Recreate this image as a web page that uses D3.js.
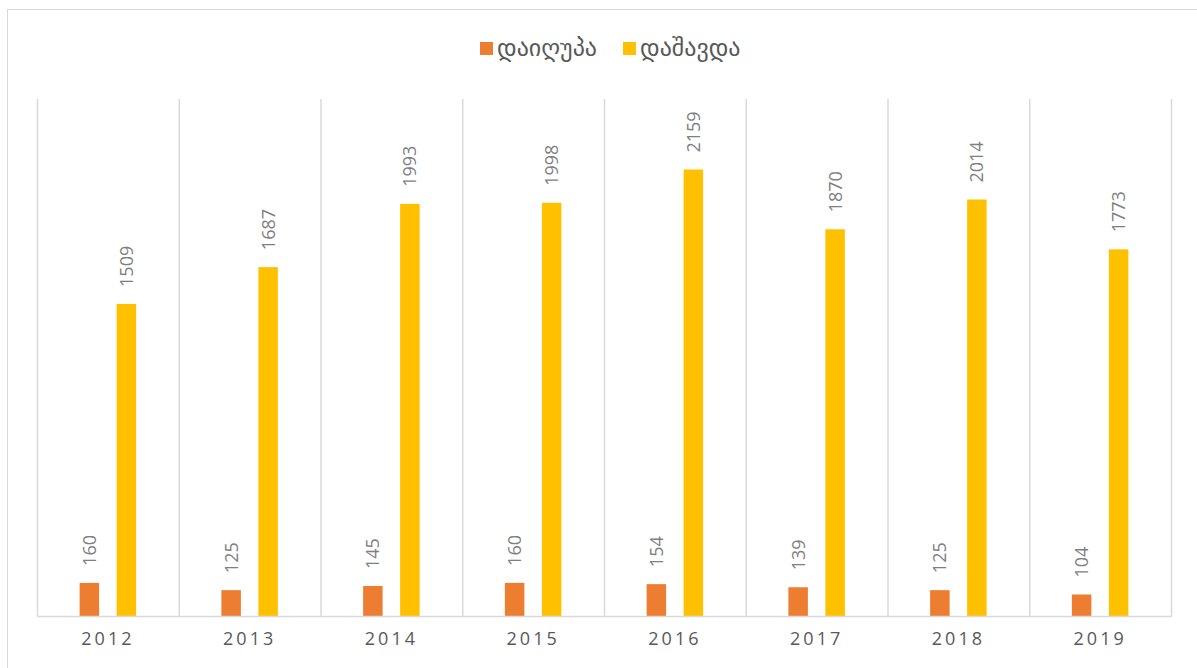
<!DOCTYPE html>
<html>
<head>
<meta charset="utf-8">
<script src="https://cdn.jsdelivr.net/npm/d3@7"></script>
<style>
  body { margin: 0; background: #fff; }
  text { font-family: "Open Sans", "DejaVu Sans", sans-serif; }
</style>
</head>
<body>
<svg id="chart" width="1197" height="668"></svg>
<script>
// Data
var years = ["2012", "2013", "2014", "2015", "2016", "2017", "2018", "2019"];
var seriesNames = ["დაიღუპა", "დაშავდა"];
var died = [160, 125, 145, 160, 154, 139, 125, 104];
var injured = [1509, 1687, 1993, 1998, 2159, 1870, 2014, 1773];
var colors = ["#ED7D31", "#FFC000"];

var svg = d3.select("#chart");

var plot = { left: 37, right: 1171, top: 99, bottom: 616 };

// Chart frame
svg.append("rect")
    .attr("x", 7.5).attr("y", 9.5)
    .attr("width", 1200).attr("height", 700)
    .attr("fill", "none")
    .attr("stroke", "#d9d9d9");

var x0 = d3.scaleBand()
    .domain(years)
    .range([plot.left, plot.right]);

var x1 = d3.scaleBand()
    .domain(seriesNames)
    .range([0, x0.bandwidth()])
    .paddingInner(0.473)
    .paddingOuter(1.152);

var y = d3.scaleLinear()
    .domain([0, 2500])
    .range([plot.bottom, plot.top]);

// Vertical gridlines between categories
var gridX = years.map(function(d) { return x0(d); }).concat([plot.right]);
svg.append("g")
    .selectAll("line")
    .data(gridX)
    .join("line")
    .attr("x1", function(d) { return d + 0.5; })
    .attr("x2", function(d) { return d + 0.5; })
    .attr("y1", plot.top)
    .attr("y2", plot.bottom)
    .attr("stroke", "#d9d9d9")
    .attr("stroke-width", 1.5);

// Bars
var rows = years.map(function(yr, i) {
    return { year: yr, values: [
        { name: seriesNames[0], value: died[i], color: colors[0] },
        { name: seriesNames[1], value: injured[i], color: colors[1] }
    ] };
});

var groups = svg.append("g")
    .selectAll("g")
    .data(rows)
    .join("g")
    .attr("transform", function(d) { return "translate(" + x0(d.year) + ",0)"; });

groups.selectAll("rect")
    .data(function(d) { return d.values; })
    .join("rect")
    .attr("x", function(d) { return x1(d.name); })
    .attr("width", x1.bandwidth())
    .attr("y", function(d) { return y(d.value); })
    .attr("height", function(d) { return plot.bottom - y(d.value); })
    .attr("fill", function(d) { return d.color; });

// Value labels (rotated)
groups.selectAll("text.value")
    .data(function(d) { return d.values; })
    .join("text")
    .attr("class", "value")
    .attr("transform", function(d) {
        var cx = x1(d.name) + x1.bandwidth() / 2 + 6.5;
        return "translate(" + cx + "," + (y(d.value) - 17) + ") rotate(-90)";
    })
    .attr("text-anchor", "start")
    .attr("font-size", 18)
    .attr("fill", "#7f7f7f")
    .text(function(d) { return d.value; });

// Baseline
svg.append("line")
    .attr("x1", plot.left).attr("x2", plot.right + 1)
    .attr("y1", plot.bottom + 0.5).attr("y2", plot.bottom + 0.5)
    .attr("stroke", "#d9d9d9")
    .attr("stroke-width", 1.5);

// X axis
var xAxis = svg.append("g")
    .attr("transform", "translate(0," + plot.bottom + ")")
    .call(d3.axisBottom(x0).tickSize(0).tickPadding(16));
xAxis.select(".domain").remove();
xAxis.selectAll("text")
    .attr("font-size", 18)
    .attr("font-family", "Open Sans, sans-serif")
    .attr("letter-spacing", "3px")
    .attr("fill", "#595959");

// Legend
var legendItems = [
    { name: seriesNames[0], color: colors[0], x: 480 },
    { name: seriesNames[1], color: colors[1], x: 623 }
];
var legend = svg.append("g")
    .selectAll("g")
    .data(legendItems)
    .join("g")
    .attr("transform", function(d) { return "translate(" + d.x + ",42)"; });
legend.append("rect")
    .attr("width", 13).attr("height", 13)
    .attr("fill", function(d) { return d.color; });
legend.append("text")
    .attr("x", 17).attr("y", 14)
    .attr("font-family", "DejaVu Sans, sans-serif")
    .attr("font-size", 24)
    .attr("fill", "#595959")
    .text(function(d) { return d.name; });
</script>
</body>
</html>
